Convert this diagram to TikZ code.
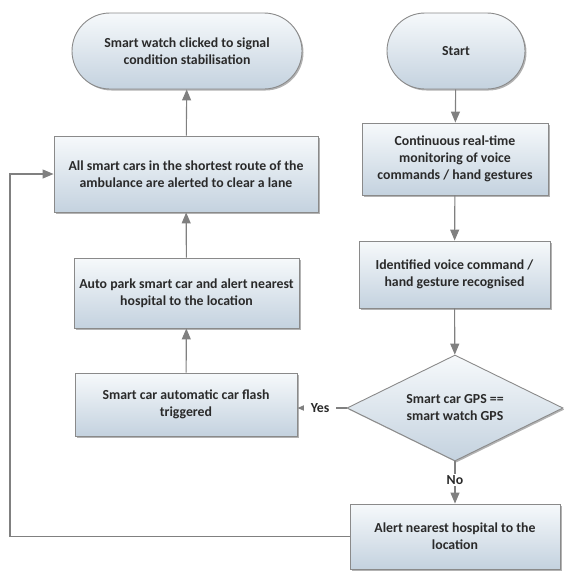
\documentclass[tikz,border=0pt]{standalone}
\usepackage{fontspec}
\setmainfont{Carlito}
\usetikzlibrary{arrows.meta,shapes.geometric,shadows,calc}
\definecolor{bordergray}{HTML}{8A8A8A}
\definecolor{linegray}{HTML}{808080}
\definecolor{boxtop}{HTML}{F6F9FB}
\definecolor{boxbot}{HTML}{C4D2DF}
\definecolor{txt}{HTML}{2A2A2A}
\tikzset{
  base/.style={draw=bordergray, line width=0.9pt, top color=boxtop, bottom color=boxbot,
    drop shadow={shadow xshift=1.5pt, shadow yshift=-1.5pt, fill=black!50, opacity=0.6},
    align=center, font=\fontsize{13.8}{17}\selectfont\bfseries, text=txt, inner sep=0pt},
  procbox/.style={base, rectangle},
  termbox/.style={base, rectangle, rounded corners=38pt, minimum height=76pt},
  decbox/.style={base, diamond, shape aspect=2},
  conn/.style={draw=linegray, line width=1.1pt, -{Triangle[width=9pt,length=11pt]}},
  lbl/.style={fill=white, inner ysep=1.5pt, inner xsep=1.5pt, font=\fontsize{13.8}{16}\selectfont\bfseries, text=txt},
}
\begin{document}
\begin{tikzpicture}[x=1pt,y=-1pt]
\useasboundingbox (0,0) rectangle (563,571);
\node[termbox, minimum width=230pt] (endT) at (187,51) {Smart watch clicked to signal\\condition stabilisation};
\node[termbox, minimum width=138pt] (startT) at (456,51) {Start};
\node[procbox, minimum width=264pt, minimum height=76pt] (allcars) at (186,174) {All smart cars in the shortest route of the\\ambulance are alerted to clear a lane};
\node[procbox, minimum width=186pt, minimum height=72pt] (cont) at (455,159) {Continuous real-time\\monitoring of voice\\commands / hand gestures};
\node[procbox, minimum width=225pt, minimum height=70pt] (park) at (186.5,293) {Auto park smart car and alert nearest\\hospital to the location};
\node[procbox, minimum width=191pt, minimum height=67pt] (ident) at (454.5,274.5) {Identified voice command /\\hand gesture recognised};
\node[procbox, minimum width=222pt, minimum height=63pt] (flash) at (186,404.5) {Smart car automatic car flash\\triggered};
\node[decbox, minimum width=216pt, minimum height=106pt] (dia) at (455,408) {Smart car GPS ==\\smart watch GPS};
\node[procbox, minimum width=210pt, minimum height=65pt] (alertH) at (455,536.5) {Alert nearest hospital to the\\location};
\coordinate (lp) at (10,350);

\draw[conn] (startT) -- (cont);
\draw[conn] (cont) -- (ident);
\draw[conn] (ident) -- (dia);
\draw[conn] (dia.south) -- node[lbl, pos=0.45] {No} (alertH.north);
\draw[conn] (dia.west) -- node[lbl, pos=0.54, inner xsep=7pt] {Yes} (flash.east |- dia.west);
\draw[conn] (flash) -- (park);
\draw[conn] (park) -- (allcars);
\draw[conn] (allcars) -- (endT);
\draw[conn] (alertH.west) -| (lp) |- (allcars.west);
\end{tikzpicture}
\end{document}
